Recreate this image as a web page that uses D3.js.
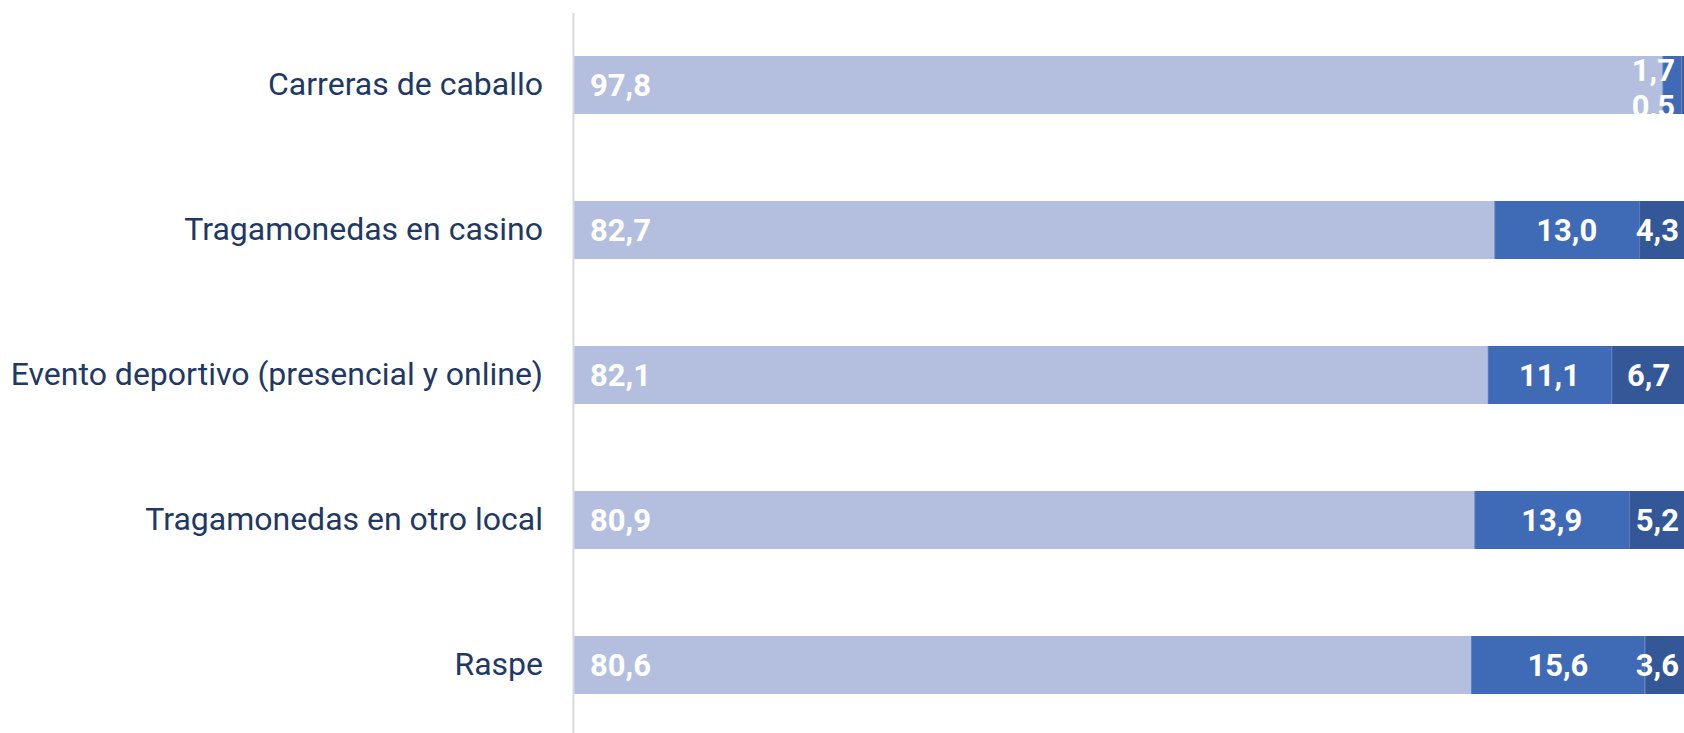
<!DOCTYPE html>
<html>
<head>
<meta charset="utf-8">
<script src="https://cdn.jsdelivr.net/npm/d3@7"></script>
<style>
  html, body { margin: 0; padding: 0; background: #fff; }
  svg { display: block; font-family: Roboto, "Noto Sans", sans-serif; }
</style>
</head>
<body>
<svg id="chart" width="1684" height="733"></svg>
<script>
// categories, top to bottom
const categories = [
  "Carreras de caballo",
  "Tragamonedas en casino",
  "Evento deportivo (presencial y online)",
  "Tragamonedas en otro local",
  "Raspe"
];
// three stacked series (percent)
const serie1 = [97.8, 82.7, 82.1, 80.9, 80.6];
const serie2 = [1.7, 13.0, 11.1, 13.9, 15.6];
const serie3 = [0.5, 4.3, 6.7, 5.2, 3.6];
const seriesColors = ["#b4bfdf", "#3e6ab6", "#335797"];

const W = 1684, H = 733;
const svg = d3.select("#chart");

//x goes a bit past the right edge, the last segment gets cut like in the original
const x = d3.scaleLinear().domain([0, 100]).range([574, 1687]);
const y = d3.scaleBand().domain(categories).range([12.5, 737.5])
  .paddingInner(0.6).paddingOuter(0.3);

// build rows for d3.stack
const rows = categories.map((c, i) => ({ cat: c, s1: serie1[i], s2: serie2[i], s3: serie3[i] }));
const keys = ["s1", "s2", "s3"];
const stacked = d3.stack().keys(keys)(rows);

const fmt = v => d3.format(".1f")(v).replace(".", ",");

// bars
const layers = svg.selectAll(".layer")
  .data(stacked)
  .enter().append("g")
  .attr("class", "layer")
  .attr("fill", (d, i) => seriesColors[i]);

layers.selectAll("rect")
  .data(d => d)
  .enter().append("rect")
  .attr("x", d => x(d[0]))
  .attr("y", d => y(d.data.cat))
  .attr("width", d => x(d[1]) - x(d[0]))
  .attr("height", y.bandwidth());

// thin separators between the blue segments
layers.filter((d, i) => i > 0).selectAll("line")
  .data(d => d)
  .enter().append("line")
  .attr("x1", d => x(d[0]) + 0.5).attr("x2", d => x(d[0]) + 0.5)
  .attr("y1", d => y(d.data.cat)).attr("y2", d => y(d.data.cat) + y.bandwidth())
  .attr("stroke", "#6b8bc6").attr("stroke-width", 1).attr("stroke-opacity", 0.6);

// axis line on the left
svg.append("line")
  .attr("x1", 573.5).attr("x2", 573.5)
  .attr("y1", 13).attr("y2", H)
  .attr("stroke", "#d9d9d9").attr("stroke-width", 2);

// category labels
const yAxis = svg.append("g")
  .attr("transform", "translate(574,0)")
  .call(d3.axisLeft(y).tickSize(0).tickPadding(31));
yAxis.select(".domain").remove();
yAxis.selectAll("text")
  .attr("fill", "#1f3864")
  .style("font-size", "32px")
  .style("font-family", "Roboto, 'Noto Sans', sans-serif");

// value labels
const labelG = svg.append("g")
  .attr("fill", "#fff")
  .style("font-size", "31px")
  .style("font-weight", "bold");

stacked.forEach((layer, li) => {
  layer.forEach((d, ri) => {
    const v = d[1] - d[0];
    const cy = y(d.data.cat) + y.bandwidth() / 2;
    const t = labelG.append("text")
      .attr("dy", "0.36em")
      .text(fmt(v));
    const w = t.node().getComputedTextLength();
    if (li === 0) {
      t.attr("x", x(d[0]) + 16).attr("y", cy);
    } else if (v < 3) {
      //too thin: stack the two small labels, right aligned
      t.attr("text-anchor", "end").attr("x", 1675)
        .attr("y", cy + (li === 1 ? -15 : 21));
    } else {
      const cx = Math.min((x(d[0]) + x(d[1])) / 2, 1679 - w / 2);
      t.attr("text-anchor", "middle").attr("x", cx).attr("y", cy);
    }
  });
});
</script>
</body>
</html>
